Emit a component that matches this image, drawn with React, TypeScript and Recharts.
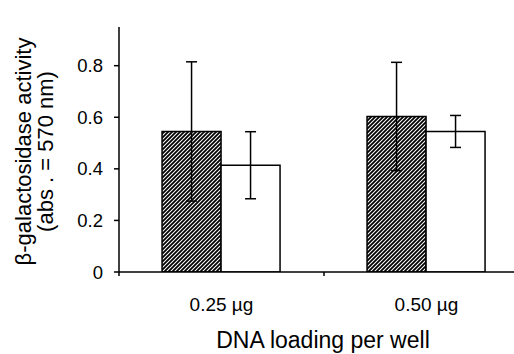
import React from 'react';
import { BarChart, Bar, XAxis, YAxis, ErrorBar } from 'recharts';

const categories = ['0.25 \u00b5g', '0.50 \u00b5g'];
const hatchedValues = [0.545, 0.603];
const hatchedErrors = [0.27, 0.21];
const whiteValues = [0.414, 0.545];
const whiteErrors = [0.13, 0.062];
const yTicks = [0, 0.2, 0.4, 0.6, 0.8];

const data = categories.map((c, i) => ({
  name: c,
  hatched: hatchedValues[i],
  hatchedErr: hatchedErrors[i],
  white: whiteValues[i],
  whiteErr: whiteErrors[i],
}));

const FONT = '"Liberation Sans", Arial, sans-serif';

const CategoryTick = (props: any) => {
  const { x, y, payload } = props;
  const half = payload && payload.offset ? payload.offset : 0;
  return (
    <g>
      <line x1={x - half} y1={y - 8} x2={x - half} y2={y - 4} stroke="#000" strokeWidth={1.5} />
      <text x={x} y={y + 31} textAnchor="middle" fontFamily={FONT} fontSize={19} fill="#000">
        {payload.value}
      </text>
    </g>
  );
};

const YTitle = (props: any) => {
  const vb = props.viewBox || { y: 40, height: 232 };
  const cy = vb.y + vb.height / 2 + 2;
  return (
    <g>
      <text
        x={23}
        y={cy}
        transform={`rotate(-90, 23, ${cy})`}
        textAnchor="middle"
        dominantBaseline="central"
        fontFamily={FONT}
        fontSize={22}
        fill="#000"
      >
        {'\u03b2-galactosidase activity'}
      </text>
      <text
        x={45}
        y={cy}
        transform={`rotate(-90, 45, ${cy})`}
        textAnchor="middle"
        dominantBaseline="central"
        fontFamily={FONT}
        fontSize={22}
        fill="#000"
      >
        (abs . = 570 nm)
      </text>
    </g>
  );
};

const XTitle = () => {
  return (
    <text
      x={323}
      y={348}
      textAnchor="middle"
      fontFamily={FONT}
      fontSize={23}
      fill="#000"
    >
      DNA loading per well
    </text>
  );
};

export default function App() {
  return (
    <div style={{ position: 'absolute', left: 0, top: 0, width: 514, height: 354, overflow: 'hidden', background: '#fff' }}>
      <BarChart
        width={530}
        height={354}
        data={data}
        margin={{ top: 27, right: 1, bottom: 0, left: 0 }}
        barCategoryGap="21%"
        barGap={0}
      >
        <defs>
          <pattern id="hatch" patternUnits="userSpaceOnUse" width={4} height={4}>
            <rect width={4} height={4} fill="#fff" />
            <path d="M-1,1 l2,-2 M0,4 l4,-4 M3,5 l2,-2" stroke="#000" strokeWidth={1.8} />
          </pattern>
        </defs>
        <XAxis
          dataKey="name"
          height={82}
          axisLine={{ stroke: '#000', strokeWidth: 1.5 }}
          tickLine={false}
          tick={<CategoryTick />}
          interval={0}
          label={<XTitle />}
        />
        <YAxis
          width={119}
          domain={[0, 0.95]}
          ticks={yTicks}
          allowDataOverflow
          axisLine={{ stroke: '#000', strokeWidth: 1.5 }}
          tickLine={{ stroke: '#000', strokeWidth: 1.5 }}
          tickSize={5}
          tickMargin={11}
          tick={{ fill: '#000', fontFamily: FONT, fontSize: 18.5 }}
          tickFormatter={(v: number) => (v === 0 ? '0' : v.toFixed(1))}
          label={<YTitle />}
        />
        <Bar dataKey="hatched" fill="url(#hatch)" stroke="#000" strokeWidth={1.5} isAnimationActive={false}>
          <ErrorBar dataKey="hatchedErr" width={5.5} stroke="#000" strokeWidth={1.5} />
        </Bar>
        <Bar dataKey="white" fill="#fff" stroke="#000" strokeWidth={1.5} isAnimationActive={false}>
          <ErrorBar dataKey="whiteErr" width={5.5} stroke="#000" strokeWidth={1.5} />
        </Bar>
      </BarChart>
    </div>
  );
}
